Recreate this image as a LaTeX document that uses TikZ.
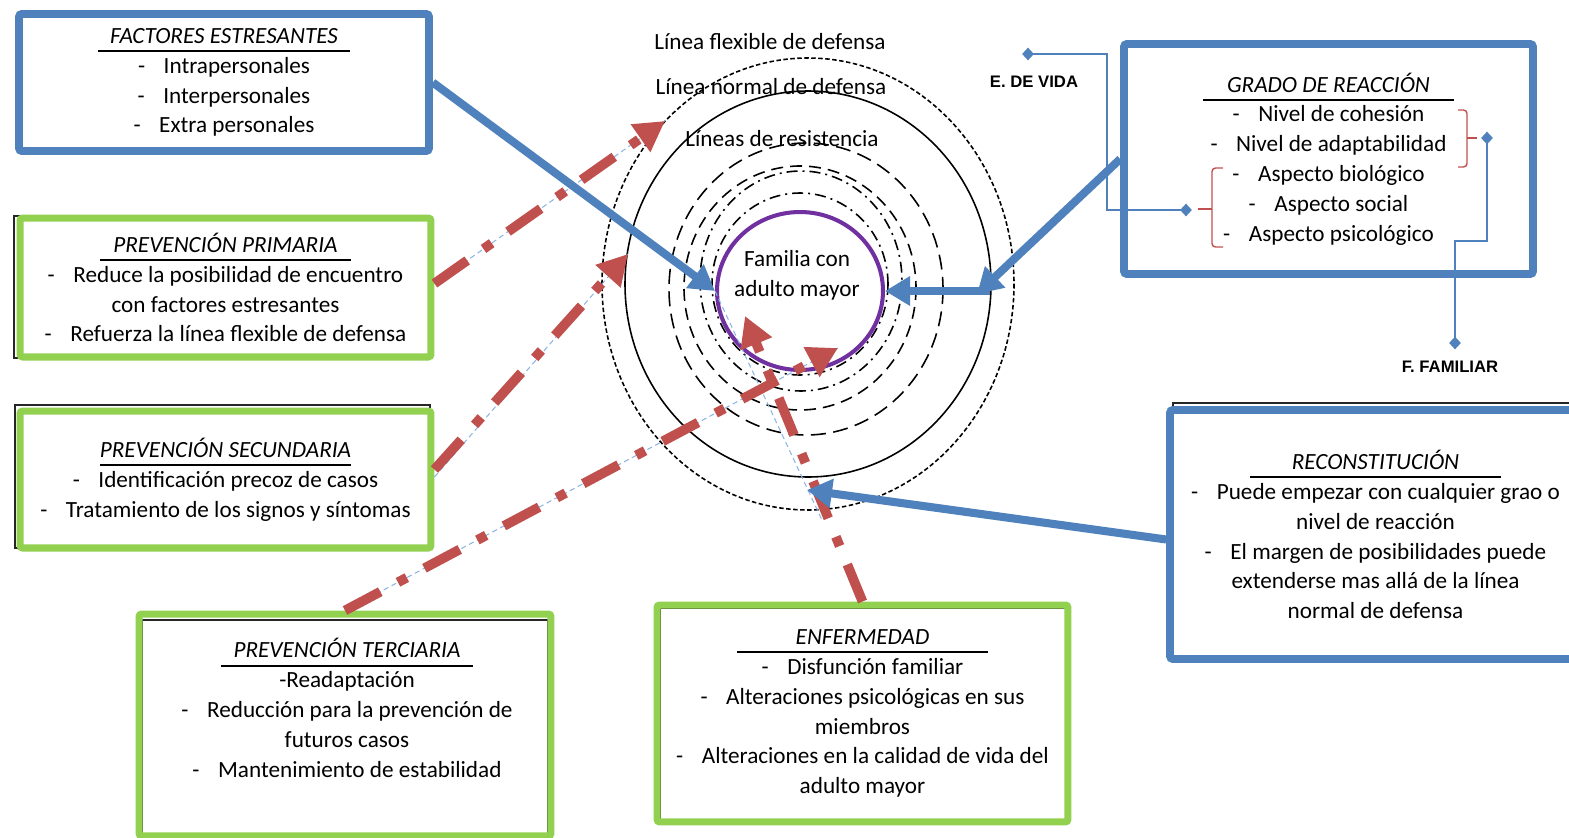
\documentclass[tikz,border=0pt]{standalone}
\usepackage{fontspec}
\setmainfont{Carlito}
\newfontfamily\arialfont{Liberation Sans}
\usepackage{tikz}
\usetikzlibrary{positioning}
\usetikzlibrary{arrows.meta}
\usetikzlibrary{shapes.geometric}

\definecolor{azul}{HTML}{4F81BD}
\definecolor{verde}{HTML}{92D050}
\definecolor{rojo}{HTML}{C0504D}
\definecolor{celeste}{HTML}{8EB4E3}
\definecolor{morado}{HTML}{7030A0}

\newcommand{\guion}{-\hspace{0.8em}}
\newcommand{\titulo}[1]{\rlap{\rule[-5pt]{5.04cm}{1.2pt}}\makebox[5.04cm]{\itshape #1}}

\begin{document}
\begin{tikzpicture}
 [ x=0.02cm
 , y=-0.02cm
 , font=\fontsize{13.2}{17}\selectfont
 , caja/.style={draw, line width=4.4pt, rounded corners=1.5pt, inner sep=0pt, align=center}
 , caja azul/.style={caja, draw=azul}
 , caja verde/.style={caja, draw=verde, line width=4pt}
 , sombra/.style={black!85, line width=0.6pt}
 , texto/.style={align=center, inner sep=0pt}
 , anillo/.style={black, line width=0.9pt}
 , flecha azul/.style={azul, line width=4.6pt, -{Triangle[length=0.5cm, width=0.56cm]}}
 , flecha roja/.style={rojo, line width=5.5pt, dash pattern=on 0.8cm off 0.4cm on 0.2cm off 0.4cm, -{Triangle[length=0.6cm, width=0.64cm]}}
 , guia/.style={celeste, line width=0.6pt, dash pattern=on 3pt off 2pt}
 , conector/.style={azul, line width=0.8pt}
 , rombo/.style={diamond, fill=azul, minimum width=0.24cm, minimum height=0.26cm, inner sep=0pt}
 , llave/.style={rojo, line width=0.8pt, rounded corners=2pt}
 , rotulo/.style={font=\arialfont\bfseries\fontsize{9.5}{11}\selectfont, inner sep=0pt}
 ]
  \useasboundingbox (0,0) rectangle (1569,838);

  % sombras
  \draw[sombra] (19,14) rectangle (427,149);
  \draw[sombra] (14,216) rectangle (430,358);
  \draw[sombra] (15,405) rectangle (430,548);
  \draw[sombra] (142,620) rectangle (548,845);
  \draw[sombra] (660,608) rectangle (1066,820);
  \draw[sombra] (1127,47) rectangle (1531,272);
  \draw[sombra] (1173,403) rectangle (1600,656);

  % cajas
  \node[caja azul, minimum width=8.2cm, minimum height=2.74cm] (factores) at (224,82.5)
    {\titulo{FACTORES ESTRESANTES}\\
     \guion Intrapersonales\\
     \guion Interpersonales\\
     \guion Extra personales};
  \node[caja verde, minimum width=8.22cm, minimum height=2.78cm] (primaria) at (225.5,287.5)
    {\titulo{PREVENCIÓN PRIMARIA}\\
     \guion Reduce la posibilidad de encuentro\\
     con factores estresantes\\
     \guion Refuerza la línea flexible de defensa};
  \node[caja verde, minimum width=8.22cm, minimum height=2.74cm] (secundaria) at (225.5,479.5)
    {\titulo{PREVENCIÓN SECUNDARIA}\\
     \guion Identificación precoz de casos\\
     \guion Tratamiento de los signos y síntomas};
  \node[caja verde, minimum width=8.24cm, minimum height=4.44cm] (terciaria) at (345,725) {};
  \node[texto] (terciaria texto) at (347,708)
    {\titulo{PREVENCIÓN TERCIARIA}\\
     -Readaptación\\
     \guion Reducción para la prevención de\\
     futuros casos\\
     \guion Mantenimiento de estabilidad};
  \node[caja verde, minimum width=8.22cm, minimum height=4.34cm] (enfermedad) at (862.5,713.5)
    {\titulo{ENFERMEDAD}\\
     \guion Disfunción familiar\\
     \guion Alteraciones psicológicas en sus\\
     miembros\\
     \guion Alteraciones en la calidad de vida del\\
     adulto mayor};
  \node[caja azul, minimum width=8.18cm, minimum height=4.6cm] (grado) at (1328.5,159)
    {\titulo{GRADO DE REACCIÓN}\\
     \guion Nivel de cohesión\\
     \guion Nivel de adaptabilidad\\
     \guion Aspecto biológico\\
     \guion Aspecto social\\
     \guion Aspecto psicológico};
  \node[caja azul, minimum width=8.22cm, minimum height=4.98cm] (reconstitucion) at (1375.5,534.5)
    {\titulo{RECONSTITUCIÓN}\\
     \guion Puede empezar con cualquier grao o\\
     nivel de reacción\\
     \guion El margen de posibilidades puede\\
     extenderse mas allá de la línea\\
     normal de defensa};

  % lineas de defensa
  \draw[anillo, dash pattern=on 0.09cm off 0.05cm] (808,284) ellipse [x radius=206, y radius=226];
  \draw[anillo] (808,284) ellipse [x radius=183, y radius=193];
  \draw[anillo, dash pattern=on 0.3cm off 0.15cm] (806,289) ellipse [x radius=137, y radius=146];
  \draw[anillo, dash pattern=on 0.24cm off 0.14cm] (800,288) ellipse [x radius=116, y radius=122];
  \draw[anillo, dash pattern=on 0.22cm off 0.1cm on 0.04cm off 0.1cm] (801,281) ellipse [x radius=101, y radius=110];
  \draw[anillo, dash pattern=on 0.22cm off 0.1cm on 0.04cm off 0.1cm] (800,284) ellipse [x radius=88, y radius=91];

  \node (flexible) at (770,42) {Línea flexible de defensa};
  \node (normal) at (771,87) {Línea normal de defensa};
  \node (resistencia) at (782,139) {Líneas de resistencia};

  \node[ellipse, draw=morado, line width=2.3pt, minimum width=3.32cm, minimum height=3.16cm] (familia) at (800,291) {};
  \node[texto] (familia texto) at (797,275) {Familia con\\adulto mayor};

  \coordinate (cruce) at (977,294);
  \coordinate (borde) at (990,291);
  \coordinate (fondo) at (807,490);
  \coordinate (punta primaria) at (665,121);
  \coordinate (punta secundaria) at (628,254);
  \coordinate (punta terciaria) at (838,348);
  \coordinate (punta enfermedad) at (745,316);
  \coordinate (fin guia) at (822,520);

  % prevencion
  \draw[guia] ([yshift=0.08cm]primaria.east) -- (punta primaria);
  \draw[guia] ([yshift=0.05cm]secundaria.east) -- (punta secundaria);
  \draw[guia] (terciaria.north) -- (punta terciaria);
  \draw[guia] (familia.west) -- (fin guia);
  \draw[flecha roja] ([yshift=0.08cm]primaria.east) -- (punta primaria);
  \draw[flecha roja] ([yshift=0.2cm]secundaria.east) -- (punta secundaria);
  \draw[flecha roja] (terciaria.north) -- (punta terciaria);
  \draw[flecha roja] (enfermedad.north) -- (punta enfermedad);

  % reaccion
  \draw[flecha azul] (factores.east) -- (familia.west);
  \draw[flecha azul] (grado.west) -- (cruce);
  \draw[flecha azul] (borde) -- (familia.east);
  \draw[flecha azul] ([yshift=-0.1cm]reconstitucion.west) -- (fondo);

  % E. de vida y F. familiar
  \node[rombo] (vida a) at (1028,54) {};
  \node[rombo] (vida b) at (1186,210) {};
  \coordinate (codo vida) at (1107,210);
  \draw[conector] (vida a.center) -| (codo vida) -- (vida b.center);
  \node[rotulo] (vida) at (1034,82) {E. DE VIDA};

  \node[rombo] (familiar a) at (1487,138) {};
  \node[rombo] (familiar b) at (1455,343) {};
  \coordinate (codo familiar) at (1455,241);
  \draw[conector] (familiar a.center) |- (codo familiar) -- (familiar b.center);
  \node[rotulo] (familiar) at (1450,367) {F. FAMILIAR};

  \draw[llave] (1458,110) -- (1467,110) -- (1467,167) -- (1458,167);
  \draw[llave] (1467,138) -- (1477,138);
  \draw[llave] (1223,168) -- (1212,168) -- (1212,247) -- (1223,247);
  \draw[llave] (1212,209) -- (1198,209);
\end{tikzpicture}
\end{document}
